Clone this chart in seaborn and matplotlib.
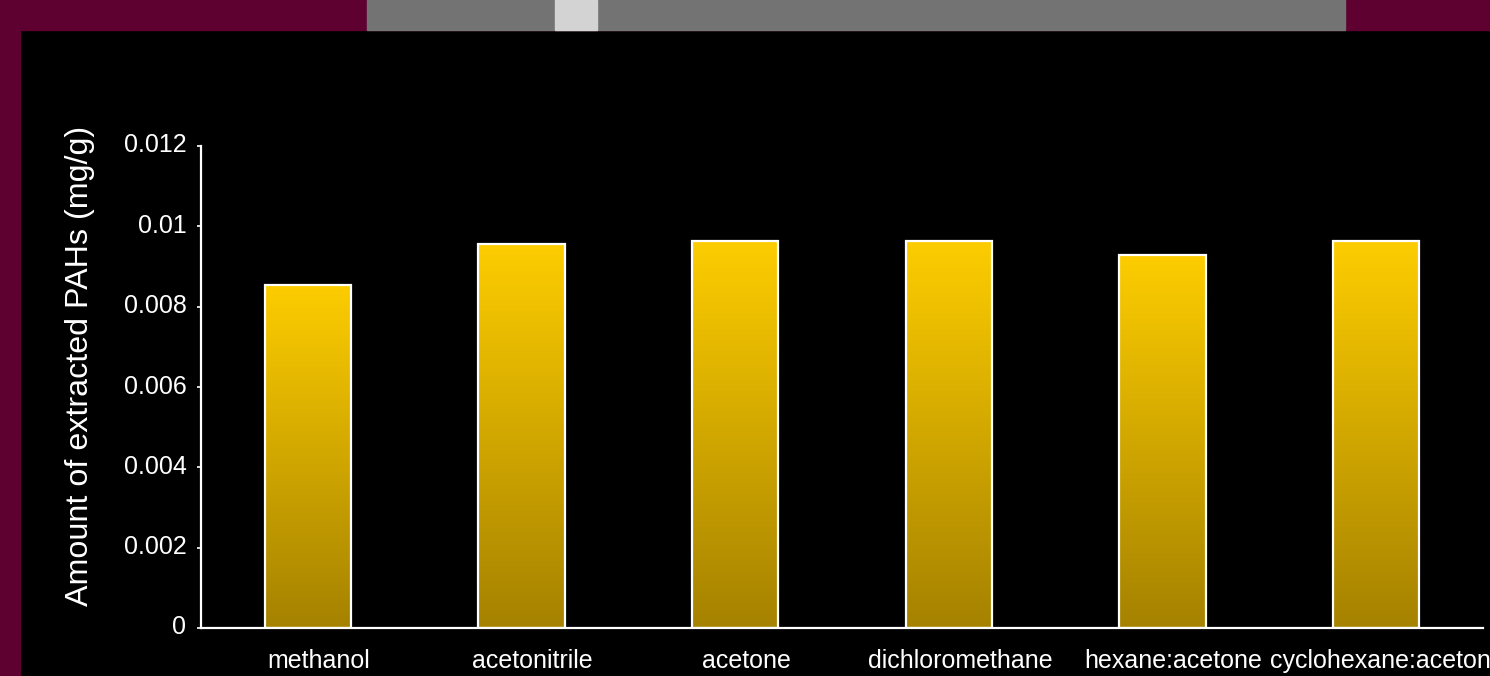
import numpy as np
import pandas as pd
import matplotlib
matplotlib.use("Agg")
import matplotlib.pyplot as plt
import matplotlib.transforms as mtransforms
from matplotlib.patches import Rectangle
from matplotlib.colors import LinearSegmentedColormap
import seaborn as sns

# Extraction solvents and mean amount of PAHs recovered (mg/g)
solvents = ["methanol", "acetonitrile", "acetone", "dichloromethane",
            "hexane:acetone", "cyclohexane:acetone"]
amounts = [0.00855, 0.00955, 0.00963, 0.00963, 0.00929, 0.00963]
y_ticks = [0, 0.002, 0.004, 0.006, 0.008, 0.010, 0.012]
y_label = "Amount of extracted PAHs (mg/g)"

sns.set_theme(style="white")
plt.rcParams["font.family"] = ["Liberation Sans", "DejaVu Sans"]

W, H = 1490, 676
fig = plt.figure(figsize=(W / 100, H / 100), dpi=100, facecolor="black")

# slide frame: maroon border strips and grey header bar
frame = fig.add_axes([0, 0, 1, 1], zorder=-5)
frame.set_xlim(0, W)
frame.set_ylim(H, 0)
frame.axis("off")
frame.add_patch(Rectangle((0, 0), W, H, color="black"))
frame.add_patch(Rectangle((0, 0), 20, H, color="#5E0030"))
frame.add_patch(Rectangle((0, 0), W, 30, color="#5E0030"))
frame.add_patch(Rectangle((367, 0), 1345 - 367, 30, color="#737373"))
frame.add_patch(Rectangle((555, 0), 597 - 555, 30, color="#D3D3D3"))

ax = fig.add_axes([201 / W, (H - 628) / H, (1483 - 201) / W, 482 / H])
ax.set_facecolor("black")

df = pd.DataFrame({"solvent": solvents, "amount": amounts})
sns.barplot(data=df, x="solvent", y="amount", width=0.405, color="#FCCC00",
            edgecolor="white", linewidth=1.6, ax=ax)

# vertical gold gradient inside each bar
gold = LinearSegmentedColormap.from_list("gold", ["#A58200", "#FDCD00"])
grad = np.linspace(0, 1, 256).reshape(-1, 1)
for bar in ax.patches:
    x0, y0 = bar.get_x(), bar.get_y()
    w, h = bar.get_width(), bar.get_height()
    bar.set_facecolor("none")
    bar.set_zorder(2)
    im = ax.imshow(grad, cmap=gold, origin="lower", aspect="auto",
                   extent=(x0, x0 + w, y0, y0 + h), zorder=1.5)
    im.set_clip_path(bar)

ax.set_xlim(-0.5, len(solvents) - 0.5)
ax.set_ylim(0, 0.012)

for side in ["top", "right"]:
    ax.spines[side].set_visible(False)
for side in ["left", "bottom"]:
    ax.spines[side].set_color("white")
    ax.spines[side].set_linewidth(1.6)

ax.set_yticks(y_ticks)
ax.set_yticklabels([f"{v:g}" for v in y_ticks])
ax.tick_params(axis="y", colors="white", labelsize=18, length=3, width=1.2,
               direction="out", pad=7.5, left=True)
ax.tick_params(axis="x", colors="white", labelsize=18, length=0, pad=15)
ax.set_xticks(np.arange(-0.5, len(solvents), 1.0), minor=True)
ax.tick_params(axis="x", which="minor", bottom=True, direction="inout",
               length=5, width=1.6, color="black")
ax.set_xlabel("")
ax.set_ylabel("")

# category labels sit a little right of the bar centres
shift_x = mtransforms.ScaledTranslation(11 / 100, 0, fig.dpi_scale_trans)
for lab in ax.get_xticklabels():
    lab.set_transform(lab.get_transform() + shift_x)
shift_y = mtransforms.ScaledTranslation(0, 3 / 100, fig.dpi_scale_trans)
for lab in ax.get_yticklabels():
    lab.set_transform(lab.get_transform() + shift_y)

fig.text(80 / W, 1 - 366 / H, y_label, rotation=90, color="white",
         fontsize=23.2, ha="center", va="center")

fig.savefig("out.png", dpi=100, facecolor="black")
